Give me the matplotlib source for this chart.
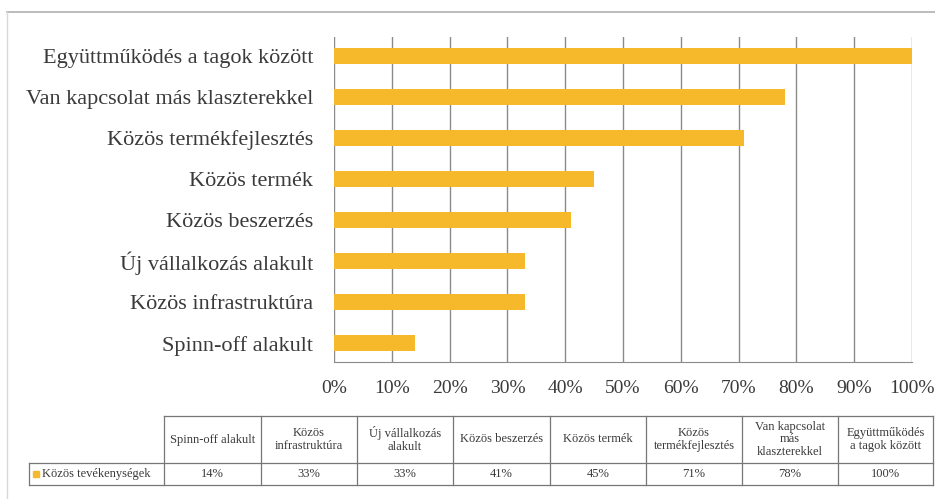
import matplotlib.pyplot as plt
from matplotlib.patches import Rectangle

# data (table order = ascending, bars drawn bottom to top)
categories = ["Spinn-off alakult", "Közös infrastruktúra", "Új vállalkozás alakult",
              "Közös beszerzés", "Közös termék", "Közös termékfejlesztés",
              "Van kapcsolat más klaszterekkel", "Együttműködés a tagok között"]
table_heads = ["Spinn-off alakult", "Közös\ninfrastruktúra", "Új vállalkozás\nalakult",
               "Közös beszerzés", "Közös termék", "Közös\ntermékfejlesztés",
               "Van kapcsolat\nmás\nklaszterekkel", "Együttműködés\na tagok között"]
values = [14, 33, 33, 41, 45, 71, 78, 100]
series_name = "Közös tevékenységek"
xticks = [0, 10, 20, 30, 40, 50, 60, 70, 80, 90, 100]

bar_color = "#F6B92B"
grid_color = "#8a8a8a"
text_color = "#3a3a3a"
plt.rcParams['font.family'] = ['Liberation Serif', 'DejaVu Serif']

fig = plt.figure(figsize=(9.35, 4.99), dpi=100)

# main bar chart
ax = fig.add_axes([334/935, 1-362/499, 578/935, 325/499])
ypos = list(range(len(categories)))
ax.barh(ypos, values, height=0.4, color=bar_color, zorder=3)
ax.set_xlim(0, 100)
ax.set_ylim(-0.46, len(categories) - 0.54)
ax.set_yticks(ypos)
ax.set_yticklabels(categories, fontsize=16, color=text_color)
ax.set_xticks(xticks)
ax.set_xticklabels([f"{t}%" for t in xticks], fontsize=14, color=text_color)
ax.tick_params(axis='y', length=0, pad=15)
ax.tick_params(axis='x', length=0, pad=13)
ax.grid(axis='x', color=grid_color, linewidth=1.0, zorder=0)
for s in ['top', 'right', 'left']:
    ax.spines[s].set_visible(False)
ax.spines['bottom'].set_color(grid_color)

# overlay in pixel coordinates for table and border
ov = fig.add_axes([0, 0, 1, 1], facecolor='none')
ov.set_xlim(0, 935)
ov.set_ylim(499, 0)
ov.axis('off')

# outer frame lines (scanned chart border)
ov.plot([7, 935], [12, 12], color="#b0b0b0", lw=1.2)
ov.plot([7, 7], [12, 499], color="#d8d8d8", lw=1.0)

# data table
col_edges = [164, 261, 357, 453, 550, 646, 742, 838, 933]
top, mid, bot = 416, 463, 485
lab_left = 29
lc = "#777777"
lw = 0.9
ov.plot([col_edges[0], col_edges[-1]], [top, top], color=lc, lw=lw)
ov.plot([lab_left, col_edges[-1]], [mid, mid], color=lc, lw=lw)
ov.plot([lab_left, col_edges[-1]], [bot, bot], color=lc, lw=lw)
ov.plot([lab_left, lab_left], [mid, bot], color=lc, lw=lw)
for x in col_edges:
    ov.plot([x, x], [top, bot], color=lc, lw=lw)

for i, (h, v) in enumerate(zip(table_heads, values)):
    cx = (col_edges[i] + col_edges[i+1]) / 2
    ov.text(cx, (top + mid) / 2, h, ha='center', va='center', fontsize=9,
            color=text_color, linespacing=1.05)
    ov.text(cx, (mid + bot) / 2, f"{v}%", ha='center', va='center', fontsize=9,
            color=text_color)

ov.add_patch(Rectangle((33, 471), 6, 6, color=bar_color))
ov.text(42, (mid + bot) / 2, series_name, ha='left', va='center', fontsize=9,
        color=text_color)

fig.savefig("out.png", dpi=100)
